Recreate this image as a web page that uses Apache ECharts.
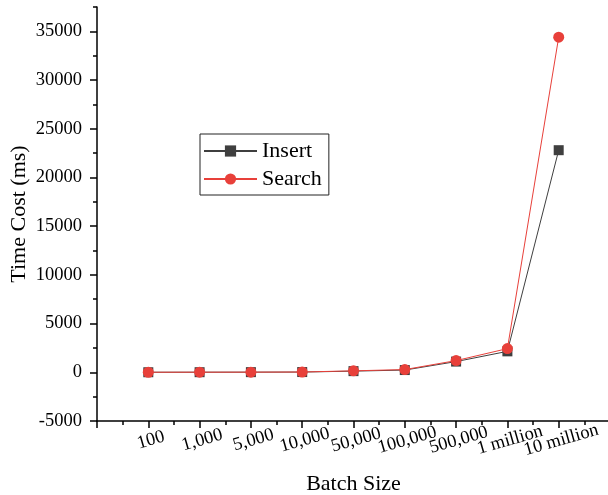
<!DOCTYPE html>
<html>
<head>
<meta charset="utf-8">
<script src="https://cdn.jsdelivr.net/npm/echarts@6/dist/echarts.min.js"></script>
<style>
  html, body { margin: 0; padding: 0; background: #ffffff; }
  #chart { width: 608px; height: 495px; }
</style>
</head>
<body>
<div id="chart"></div>
<script>
// Batch sizes shown along the x axis (placed at positions 1..9)
const categories = ['100', '1,000', '5,000', '10,000', '50,000', '100,000', '500,000', '1 million', '10 million'];
// Time cost in milliseconds for each batch size
const insertMs = [5, 10, 15, 25, 120, 230, 1100, 2150, 22800];
const searchMs = [5, 10, 15, 30, 150, 280, 1200, 2430, 34400];
// Labelled y ticks
const yTicks = [-5000, 0, 5000, 10000, 15000, 20000, 25000, 30000, 35000];

const FONT = '"Liberation Serif", "Times New Roman", serif';
const INK = '#000000';
const GRAY = '#3f3f3f';
const RED = '#e8403a';

const toPoints = vals => vals.map((v, i) => [i + 1, v]);

const chart = echarts.init(document.getElementById('chart'), null, { renderer: 'canvas' });

chart.setOption({
  animation: false,
  backgroundColor: '#ffffff',
  textStyle: { fontFamily: FONT, color: INK },
  grid: { left: 97, top: 7, width: 513, bottom: 74, containLabel: false, outerBoundsMode: 'none' },
  legend: {
    orient: 'vertical',
    left: 200,
    top: 134,
    padding: [6, 7, 5, 3],
    borderColor: '#222222',
    borderWidth: 1,
    itemWidth: 53,
    itemHeight: 14,
    itemGap: 6,
    textStyle: { fontFamily: FONT, fontSize: 22, color: INK, lineHeight: 22 },
    data: ['Insert', 'Search']
  },
  xAxis: {
    type: 'value',
    min: 0,
    max: 10,
    interval: 1,
    name: 'Batch Size',
    nameLocation: 'middle',
    nameGap: 52,
    nameMoveOverlap: false,
    nameTextStyle: { fontFamily: FONT, fontSize: 22, color: INK },
    axisLine: { show: true, onZero: false, lineStyle: { color: INK, width: 1.5 } },
    axisTick: { show: true, inside: false, length: 7, lineStyle: { color: INK, width: 1.5 } },
    minorTick: { show: true, splitNumber: 2, length: 4, lineStyle: { color: INK, width: 1.5 } },
    splitLine: { show: false },
    axisLabel: {
      rotate: 16,
      align: 'center',
      verticalAlign: 'top',
      margin: 10,
      fontFamily: FONT,
      fontSize: 18.5,
      color: INK,
      showMinLabel: true,
      showMaxLabel: true,
      formatter: v => (v >= 1 && v <= categories.length) ? categories[v - 1] : ''
    }
  },
  yAxis: [
    {
      type: 'value',
      min: -5000,
      max: 37500,
      interval: 5000,
      name: 'Time Cost (ms)',
      nameLocation: 'middle',
      nameGap: 67,
      nameMoveOverlap: false,
      nameTextStyle: { fontFamily: FONT, fontSize: 22, color: INK },
      axisLine: { show: true, onZero: false, lineStyle: { color: INK, width: 1.5 } },
      axisTick: { show: true, inside: false, length: 7, customValues: yTicks, lineStyle: { color: INK, width: 1.5 } },
      splitLine: { show: false },
      axisLabel: {
        margin: 15,
        fontFamily: FONT,
        fontSize: 18.5,
        color: INK,
        showMaxLabel: true,
        formatter: v => (yTicks.indexOf(v) >= 0 ? String(v) : '')
      }
    },
    {
      // half-step minor ticks on the same scale
      type: 'value',
      position: 'left',
      min: -5000,
      max: 37500,
      interval: 2500,
      axisLine: { show: false },
      axisTick: { show: true, inside: false, length: 4, lineStyle: { color: INK, width: 1.5 } },
      axisLabel: { show: false },
      splitLine: { show: false }
    }
  ],
  series: [
    {
      name: 'Insert',
      type: 'line',
      yAxisIndex: 0,
      data: toPoints(insertMs),
      symbol: 'rect',
      symbolSize: 10,
      lineStyle: { color: GRAY, width: 1 },
      itemStyle: { color: GRAY },
      z: 2
    },
    {
      name: 'Search',
      type: 'line',
      yAxisIndex: 0,
      data: toPoints(searchMs),
      symbol: 'circle',
      symbolSize: 11,
      lineStyle: { color: RED, width: 1 },
      itemStyle: { color: RED },
      z: 3
    }
  ]
});
</script>
</body>
</html>
